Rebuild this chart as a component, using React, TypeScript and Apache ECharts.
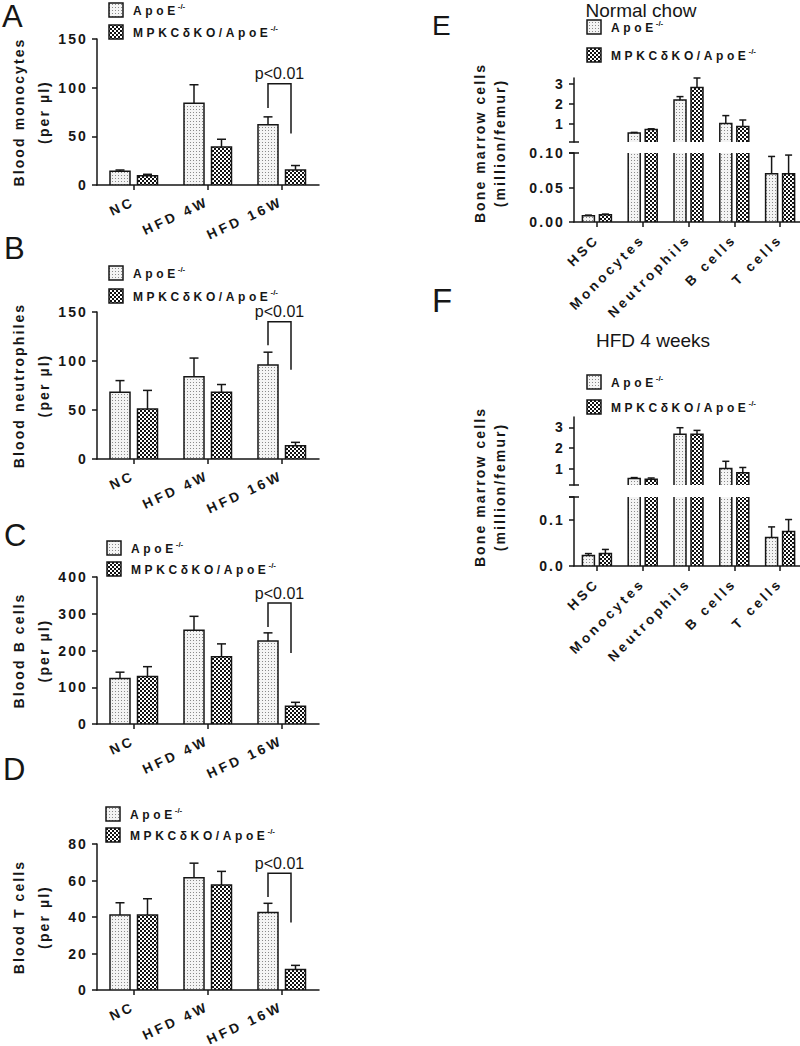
import React, { useEffect, useRef } from 'react';
import * as echarts from 'echarts';

// ---------- data ----------
const bloodCategories = ['NC', 'HFD 4W', 'HFD 16W'];
const marrowCategories = ['HSC', 'Monocytes', 'Neutrophils', 'B cells', 'T cells'];
const groupNames = ['ApoE', 'MPKCδKO/ApoE'];
const groupSup = '-/-';
const pLabel = 'p<0.01';

const monocytesApoE = [14, 84, 62];
const monocytesApoEErr = [1.4, 19, 8];
const monocytesKO = [9.6, 39, 15.5];
const monocytesKOErr = [1.4, 8, 4.5];
const monocytesTicks = [0, 50, 100, 150];

const neutrophilsApoE = [68, 84, 96];
const neutrophilsApoEErr = [12, 19, 13];
const neutrophilsKO = [51, 68, 13.5];
const neutrophilsKOErr = [19, 8, 3.5];
const neutrophilsTicks = [0, 50, 100, 150];

const bCellsApoE = [124, 255, 226];
const bCellsApoEErr = [17, 38, 22];
const bCellsKO = [129, 183, 48];
const bCellsKOErr = [27, 35, 11];
const bCellsTicks = [0, 100, 200, 300, 400];

const tCellsApoE = [41.1, 61.5, 42.5];
const tCellsApoEErr = [6.7, 8, 5];
const tCellsKO = [41.1, 57.5, 11.3];
const tCellsKOErr = [8.9, 7.5, 2.2];
const tCellsTicks = [0, 20, 40, 60, 80];

// significance brackets: [category index, top, left leg end, right leg end]
const bracketA = [2, 104, 79, 53];
const bracketB = [2, 140, 116, 91];
const bracketC = [2, 329, 264, 193];
const bracketD = [2, 64, 51, 37];

const chowApoE = [0.009, 0.55, 2.2, 1.03, 0.07];
const chowApoEErr = [0.001, 0.03, 0.17, 0.39, 0.025];
const chowKO = [0.0105, 0.73, 2.83, 0.87, 0.07];
const chowKOErr = [0.001, 0.03, 0.47, 0.33, 0.027];
const chowUpperRange = [0.1, 3.3];
const chowUpperTicks = [1, 2, 3];
const chowLowerTicks = [0, 0.05, 0.1];

const hfdApoE = [0.023, 0.52, 2.66, 1.0, 0.062];
const hfdApoEErr = [0.004, 0.04, 0.32, 0.35, 0.023];
const hfdKO = [0.027, 0.48, 2.66, 0.79, 0.075];
const hfdKOErr = [0.009, 0.06, 0.19, 0.26, 0.026];
const hfdUpperRange = [0.2, 3.5];
const hfdUpperTicks = [1, 2, 3];
const hfdLowerRange = [0, 0.15];
const hfdLowerLabels = [0, 0.1];

// ---------- styles ----------
const INK = '#161616';
const FONT = '"Liberation Sans", Arial, sans-serif';
const LW = 1.5;
const LEGEND_FS = 12;
const LEGEND_LS = 3.6;
const TICK_FS = 14;
const TICK_LS = 2.1;
const CAT_FS = 13.6;
const CAT_LS = 3.2;

function makeDots() {
  const c = document.createElement('canvas');
  c.width = 3; c.height = 3;
  const g = c.getContext('2d')!;
  g.fillStyle = '#f4f4f4'; g.fillRect(0, 0, 3, 3);
  g.fillStyle = '#8a8a8a'; g.fillRect(1, 1, 1, 1);
  return { image: c.toDataURL(), repeat: 'repeat', imageWidth: 3, imageHeight: 3 };
}
function makeChecks() {
  const c = document.createElement('canvas');
  c.width = 4; c.height = 4;
  const g = c.getContext('2d')!;
  g.fillStyle = '#111111'; g.fillRect(0, 0, 4, 4);
  g.fillStyle = '#ffffff'; g.fillRect(0, 0, 2, 2); g.fillRect(2, 2, 2, 2);
  return { image: c.toDataURL(), repeat: 'repeat', imageWidth: 4, imageHeight: 4 };
}

function measure(text: string, font: string) {
  const ctx = document.createElement('canvas').getContext('2d')!;
  ctx.font = font;
  return ctx.measureText(text).width;
}

function barRenderer(offset: number, barW: number, capW: number, fill: any) {
  return (params: any, api: any) => {
    const i = api.value(0), v = api.value(1), e = api.value(2);
    const cs = params.coordSys;
    const top = cs.y, bottom = cs.y + cs.height;
    const p = api.coord([i, v]);
    const cx = p[0] + offset;
    const yv = p[1];
    if (yv >= bottom - 0.5) return null;
    const xl = cx - barW / 2, xr = cx + barW / 2;
    const yT = Math.max(yv, top);
    const stroke = { stroke: INK, lineWidth: LW, fill: null };
    const children: any[] = [
      { type: 'rect', shape: { x: xl, y: yT, width: barW, height: bottom - yT }, style: { fill } },
    ];
    if (yv >= top) {
      const ye = Math.max(api.coord([i, v + e])[1], top - 3);
      children.push({ type: 'line', shape: { x1: cx, y1: yv, x2: cx, y2: ye }, style: stroke });
      children.push({ type: 'line', shape: { x1: cx - capW / 2, y1: ye, x2: cx + capW / 2, y2: ye }, style: stroke });
      children.push({ type: 'polyline', shape: { points: [[xl, bottom], [xl, yv], [xr, yv], [xr, bottom]] }, style: stroke });
    } else {
      children.push({ type: 'line', shape: { x1: xl, y1: top, x2: xl, y2: bottom }, style: stroke });
      children.push({ type: 'line', shape: { x1: xr, y1: top, x2: xr, y2: bottom }, style: stroke });
    }
    return { type: 'group', children };
  };
}

function bracketRenderer(params: any, api: any) {
  const i = api.value(0);
  const pt = api.coord([i, api.value(1)]);
  const yl = api.coord([i, api.value(2)])[1];
  const yr = api.coord([i, api.value(3)])[1];
  const xl = pt[0] - 14, xr = pt[0] + 9;
  return {
    type: 'group',
    children: [
      { type: 'polyline', shape: { points: [[xl, yl], [xl, pt[1]], [xr, pt[1]], [xr, yr]] }, style: { stroke: INK, lineWidth: LW, fill: null } },
      {
        type: 'text', x: (xl + xr) / 2, y: pt[1] - 2,
        style: { text: pLabel, fill: INK, fontFamily: FONT, fontSize: 16, align: 'center', verticalAlign: 'bottom' },
      },
    ],
  };
}

function buildOption() {
  const dots = makeDots();
  const checks = makeChecks();

  const axisLine = { show: true, lineStyle: { color: INK, width: LW } };
  const axisTick = { show: true, length: 5, lineStyle: { color: INK, width: LW } };
  const tickFont = { fontFamily: FONT, fontWeight: 'bold' as const, color: INK };

  const grids: any[] = [];
  const xAxes: any[] = [];
  const yAxes: any[] = [];
  const series: any[] = [];
  const graphics: any[] = [];

  const leftPanels = [
    { top: 39, height: 146, a: monocytesApoE, ae: monocytesApoEErr, k: monocytesKO, ke: monocytesKOErr, ticks: monocytesTicks, name: 'Blood monocytes\n(per µl)', bracket: bracketA, letter: 'A', lx: 2, ly: 16, legend: [109, 10, 32] },
    { top: 312, height: 147, a: neutrophilsApoE, ae: neutrophilsApoEErr, k: neutrophilsKO, ke: neutrophilsKOErr, ticks: neutrophilsTicks, name: 'Blood neutrophiles\n(per µl)', bracket: bracketB, letter: 'B', lx: 4, ly: 248, legend: [109, 273, 296] },
    { top: 577, height: 147, a: bCellsApoE, ae: bCellsApoEErr, k: bCellsKO, ke: bCellsKOErr, ticks: bCellsTicks, name: 'Blood B cells\n(per µl)', bracket: bracketC, letter: 'C', lx: 4, ly: 535, legend: [107, 548, 569] },
    { top: 844, height: 146, a: tCellsApoE, ae: tCellsApoEErr, k: tCellsKO, ke: tCellsKOErr, ticks: tCellsTicks, name: 'Blood T cells\n(per µl)', bracket: bracketD, letter: 'D', lx: 3, ly: 769, legend: [106, 814, 835] },
  ];

  leftPanels.forEach((P, gi) => {
    grids.push({ left: 97, top: P.top, width: 222, height: P.height, containLabel: false, outerBoundsMode: 'none' });
    xAxes.push({
      type: 'category', gridIndex: gi, data: bloodCategories, z: 3,
      axisLine, axisTick: { ...axisTick, alignWithLabel: true },
      axisLabel: { ...tickFont, fontSize: CAT_FS, rotate: 25, margin: 16, interval: 0 },
    });
    yAxes.push({
      type: 'value', gridIndex: gi, z: 3,
      min: P.ticks[0], max: P.ticks[P.ticks.length - 1], interval: P.ticks[1] - P.ticks[0],
      axisLine, axisTick, splitLine: { show: false },
      axisLabel: { ...tickFont, fontSize: TICK_FS, margin: 9 },
      name: P.name, nameLocation: 'middle', nameGap: 41,
      nameTextStyle: { fontFamily: FONT, fontWeight: 'bold', fontSize: TICK_FS, lineHeight: 25, color: INK },
    });
    series.push({
      type: 'custom', name: groupNames[0], xAxisIndex: gi, yAxisIndex: gi, silent: true, z: 2,
      renderItem: barRenderer(-14, 20, 9, dots),
      data: bloodCategories.map((_, j) => [j, P.a[j], P.ae[j]]),
    });
    series.push({
      type: 'custom', name: groupNames[1], xAxisIndex: gi, yAxisIndex: gi, silent: true, z: 2,
      renderItem: barRenderer(13.5, 20, 9, checks),
      data: bloodCategories.map((_, j) => [j, P.k[j], P.ke[j]]),
    });
    series.push({
      type: 'custom', name: 'significance', xAxisIndex: gi, yAxisIndex: gi, silent: true, z: 2,
      renderItem: bracketRenderer, data: [P.bracket],
    });
    graphics.push({
      type: 'text', x: P.lx, y: P.ly,
      style: { text: P.letter, fill: INK, fontFamily: FONT, fontSize: 31, align: 'left', verticalAlign: 'middle' },
    });
  });

  const rightPanels = [
    {
      upper: { top: 78, height: 64, range: chowUpperRange, ticks: chowUpperTicks },
      lower: { top: 153, height: 69 },
      a: chowApoE, ae: chowApoEErr, k: chowKO, ke: chowKOErr,
      title: 'Normal chow', tx: 641, ty: 10, letter: 'E', lx: 432, ly: 25, lsize: 28,
      nameY: 143, legend: [587, 27, 55],
    },
    {
      upper: { top: 417, height: 68, range: hfdUpperRange, ticks: hfdUpperTicks },
      lower: { top: 497, height: 69 },
      a: hfdApoE, ae: hfdApoEErr, k: hfdKO, ke: hfdKOErr,
      title: 'HFD 4 weeks', tx: 653, ty: 340, letter: 'F', lx: 432, ly: 300, lsize: 33,
      nameY: 487, legend: [587, 382, 407],
    },
  ];

  const RX = 574, RW = 229;
  rightPanels.forEach((P, pi) => {
    const gu = 4 + pi * 2, gl = gu + 1;
    grids.push({ left: RX, top: P.upper.top, width: RW, height: P.upper.height, containLabel: false, outerBoundsMode: 'none' });
    grids.push({ left: RX, top: P.lower.top, width: RW, height: P.lower.height, containLabel: false, outerBoundsMode: 'none' });
    xAxes.push({ type: 'category', gridIndex: gu, data: marrowCategories, show: false });
    xAxes.push({
      type: 'category', gridIndex: gl, data: marrowCategories, z: 3,
      axisLine, axisTick: { ...axisTick, alignWithLabel: true },
      axisLabel: { ...tickFont, fontSize: CAT_FS, rotate: 45, margin: 15, interval: 0 },
    });
    yAxes.push({
      type: 'value', gridIndex: gu, z: 3,
      min: P.upper.range[0], max: P.upper.range[1],
      axisLine, splitLine: { show: false },
      axisTick: { ...axisTick, customValues: P.upper.ticks },
      axisLabel: { ...tickFont, fontSize: TICK_FS, margin: 9, customValues: P.upper.ticks },
    });
    if (pi === 0) {
      yAxes.push({
        type: 'value', gridIndex: gl, z: 3,
        min: chowLowerTicks[0], max: chowLowerTicks[chowLowerTicks.length - 1], interval: chowLowerTicks[1] - chowLowerTicks[0],
        axisLine, axisTick, splitLine: { show: false },
        axisLabel: { ...tickFont, fontSize: TICK_FS, margin: 9, formatter: (v: number) => v.toFixed(2) },
      });
    } else {
      yAxes.push({
        type: 'value', gridIndex: gl, z: 3,
        min: hfdLowerRange[0], max: hfdLowerRange[1],
        axisLine, splitLine: { show: false },
        axisTick: { ...axisTick, customValues: [...hfdLowerLabels, hfdLowerRange[1]] },
        axisLabel: { ...tickFont, fontSize: TICK_FS, margin: 9, customValues: hfdLowerLabels, formatter: (v: number) => v.toFixed(1) },
      });
    }
    [gu, gl].forEach((g) => {
      series.push({
        type: 'custom', name: groupNames[0], xAxisIndex: g, yAxisIndex: g, silent: true, z: 2,
        renderItem: barRenderer(-8.5, 12, 7, dots),
        data: marrowCategories.map((_, j) => [j, P.a[j], P.ae[j]]),
      });
      series.push({
        type: 'custom', name: groupNames[1], xAxisIndex: g, yAxisIndex: g, silent: true, z: 2,
        renderItem: barRenderer(8.5, 12, 7, checks),
        data: marrowCategories.map((_, j) => [j, P.k[j], P.ke[j]]),
      });
    });
    // axis break marks
    const ub = P.upper.top + P.upper.height, lt = P.lower.top;
    graphics.push({ type: 'line', shape: { x1: RX - 5, y1: ub, x2: RX + 5, y2: ub }, style: { stroke: INK, lineWidth: LW } });
    graphics.push({ type: 'line', shape: { x1: RX - 5, y1: lt, x2: RX + 5, y2: lt }, style: { stroke: INK, lineWidth: LW } });
    graphics.push({
      type: 'text', x: P.tx, y: P.ty,
      style: { text: P.title, fill: INK, fontFamily: FONT, fontSize: 19, align: 'center', verticalAlign: 'middle' },
    });
    graphics.push({
      type: 'text', x: P.lx, y: P.ly,
      style: { text: P.letter, fill: INK, fontFamily: FONT, fontSize: P.lsize, align: 'left', verticalAlign: 'middle' },
    });
    graphics.push({
      type: 'text', x: 490, y: P.nameY, rotation: Math.PI / 2,
      style: {
        text: 'Bone marrow cells\n(million/femur)', fill: INK, fontFamily: FONT, fontWeight: 'bold', fontSize: TICK_FS,
        lineHeight: 20, align: 'center', verticalAlign: 'middle',
      },
    });
  });

  // legends
  const legendFont = `bold ${LEGEND_FS}px "Liberation Sans"`;
  const legendRows = [...leftPanels.map((p) => p.legend), ...rightPanels.map((p) => p.legend)];
  legendRows.forEach(([bx, y1, y2]) => {
    [y1, y2].forEach((cy, gi) => {
      const name = groupNames[gi];
      const tx = bx + 24;
      const w = measure(name, legendFont) + name.length * LEGEND_LS;
      graphics.push({
        type: 'rect', shape: { x: bx, y: cy - 7, width: 14, height: 14 },
        style: { fill: gi === 0 ? dots : checks, stroke: INK, lineWidth: LW },
      });
      graphics.push({
        type: 'text', x: tx, y: cy + 1,
        style: { text: name, fill: INK, fontFamily: FONT, fontWeight: 'bold', fontSize: LEGEND_FS, align: 'left', verticalAlign: 'middle' },
      });
      graphics.push({
        type: 'text', x: tx + w - 1, y: cy - 4,
        style: { text: groupSup, fill: INK, fontFamily: FONT, fontWeight: 'bold', fontSize: 8, align: 'left', verticalAlign: 'middle' },
      });
    });
  });

  return {
    animation: false,
    backgroundColor: '#ffffff',
    grid: grids,
    xAxis: xAxes,
    yAxis: yAxes,
    series,
    graphic: { elements: graphics },
  };
}

// The reference typesets its bold labels with wide letter spacing.
function applyLetterSpacing(el: HTMLElement) {
  el.querySelectorAll('text').forEach((t) => {
    const cs = window.getComputedStyle(t);
    const w = cs.fontWeight;
    if (!(w === 'bold' || parseInt(w, 10) >= 600)) return;
    const fs = parseFloat(cs.fontSize);
    let ls = 0;
    if (Math.abs(fs - LEGEND_FS) < 0.05) ls = LEGEND_LS;
    else if (Math.abs(fs - CAT_FS) < 0.05) ls = CAT_LS;
    else if (Math.abs(fs - TICK_FS) < 0.05) ls = TICK_LS;
    if (ls) (t as unknown as SVGTextElement).style.letterSpacing = `${ls}px`;
  });
}

export default function App() {
  const ref = useRef<HTMLDivElement>(null);
  useEffect(() => {
    const el = ref.current;
    if (!el) return;
    const chart = echarts.init(el, undefined, { renderer: 'svg', width: 800, height: 1046 });
    chart.setOption(buildOption() as any);
    applyLetterSpacing(el);
    const onFinished = () => applyLetterSpacing(el);
    chart.on('finished', onFinished);
    const timer = window.setTimeout(() => applyLetterSpacing(el), 50);
    return () => {
      window.clearTimeout(timer);
      chart.off('finished', onFinished);
      chart.dispose();
    };
  }, []);
  return <div ref={ref} style={{ position: 'absolute', left: 0, top: 0, width: 800, height: 1046 }} />;
}
